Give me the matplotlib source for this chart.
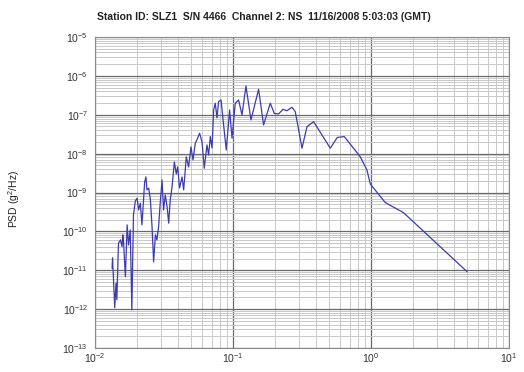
import matplotlib
matplotlib.use("Agg")
import matplotlib.pyplot as plt
from matplotlib.ticker import LogLocator, FuncFormatter, NullFormatter
import numpy as np

plt.rcParams['font.family'] = ['Liberation Sans', 'DejaVu Sans']
plt.rcParams['mathtext.fontset'] = 'custom'
plt.rcParams['mathtext.rm'] = 'Liberation Sans'
plt.rcParams['mathtext.it'] = 'Liberation Sans:italic'
plt.rcParams['mathtext.bf'] = 'Liberation Sans:bold'

title = "Station ID: SLZ1  S/N 4466  Channel 2: NS  11/16/2008 5:03:03 (GMT)"
ylabel = "PSD (g$^{2}$/Hz)"

# Frequency (Hz) and power spectral density (g^2/Hz)
freq = [0.0133, 0.0134, 0.0136, 0.0139, 0.0142, 0.0144, 0.0147, 0.0148, 0.0153, 0.0157,
        0.0159, 0.0161, 0.0166, 0.0171, 0.0175, 0.0180, 0.0185, 0.0190, 0.0196, 0.0202,
        0.0207, 0.0213, 0.0219, 0.0229, 0.0234, 0.0238, 0.0245, 0.0252, 0.0259, 0.0266,
        0.0274, 0.0281, 0.0289, 0.0297, 0.0306, 0.0314, 0.0323, 0.0333, 0.0342, 0.0351,
        0.0361, 0.0376, 0.0388, 0.0397, 0.0410, 0.0427, 0.0439, 0.0459, 0.0477, 0.0496,
        0.0513, 0.0533, 0.0554, 0.0573, 0.0596, 0.0619, 0.0648, 0.0666, 0.0685, 0.0705,
        0.0724, 0.0744, 0.0766, 0.0786, 0.0819, 0.0855, 0.0894, 0.0945, 0.0984,
        0.1039, 0.1098, 0.1162, 0.1242, 0.1350, 0.1533, 0.1666, 0.1863, 0.1992, 0.2140,
        0.2303, 0.2462, 0.2676, 0.2828, 0.3162, 0.3438, 0.3838, 0.5071, 0.570, 0.641,
        0.720, 0.837, 0.935, 0.988, 1.27, 1.72, 4.96]
psd = [1.13e-11, 2.08e-11, 6.38e-12, 1.08e-12, 4.66e-12, 1.73e-12, 2.25e-11, 4.98e-11, 6.04e-11, 4.06e-11,
       8.13e-11, 5.47e-11, 6.76e-12, 1.47e-10, 4.50e-11, 1.09e-10, 9.6e-13, 2.65e-10, 6.08e-10, 7.13e-10,
       3.57e-10, 5.31e-10, 1.47e-10, 1.87e-9, 2.52e-9, 1.17e-9, 1.29e-9, 6.45e-10, 1.33e-10, 1.64e-11,
       8.13e-11, 6.04e-11, 1.33e-10, 5.41e-10, 2.11e-9, 3.57e-10, 8.67e-10, 4.34e-10, 1.63e-10, 6.45e-10,
       1.31e-9, 6.12e-9, 3.01e-9, 4.55e-9, 1.31e-9, 2.52e-9, 1.17e-9, 8.22e-9, 4.55e-9, 1.49e-8,
       6.89e-9, 1.85e-8, 2.49e-8, 3.34e-8, 2.03e-8, 4.21e-9, 1.67e-8, 9.27e-9, 2.74e-8, 1.40e-8,
       1.33e-7, 1.98e-7, 8.28e-8, 2.17e-7, 2.40e-7, 5.47e-8, 1.24e-8, 1.33e-7, 2.49e-8,
       1.98e-7, 2.40e-7, 9.9e-8, 5.50e-7, 7.35e-8, 4.53e-7, 5.47e-8, 1.98e-7, 1.08e-7, 1.05e-7,
       1.38e-7, 1.27e-7, 1.56e-7, 1.20e-7, 1.38e-8, 4.94e-8, 6.65e-8, 1.38e-8, 2.61e-8, 2.74e-8,
       1.63e-8, 8.22e-9, 3.81e-9, 1.66e-9, 5.50e-10, 3.04e-10, 9.26e-12]

xlim = (1e-2, 1e1)
ylim = (1e-13, 1e-5)

fig = plt.figure(figsize=(5.24, 3.72), dpi=100)
ax = fig.add_axes([0.1813, 0.0645, 0.79, 0.836])

ax.set_xscale('log')
ax.set_yscale('log')
ax.set_xlim(*xlim)
ax.set_ylim(*ylim)

ax.xaxis.set_major_locator(LogLocator(base=10, numticks=20))
ax.yaxis.set_major_locator(LogLocator(base=10, numticks=20))
ax.xaxis.set_minor_locator(LogLocator(base=10, subs=np.arange(2, 10), numticks=20))
ax.yaxis.set_minor_locator(LogLocator(base=10, subs=np.arange(2, 10), numticks=20))

fmt = FuncFormatter(lambda v, p: r'$10^{%d}$' % int(round(np.log10(v))))
ax.xaxis.set_major_formatter(fmt)
ax.yaxis.set_major_formatter(fmt)
ax.xaxis.set_minor_formatter(NullFormatter())
ax.yaxis.set_minor_formatter(NullFormatter())

ax.grid(True, which='major', color='#6a6a6a', linewidth=0.9)
ax.grid(True, which='minor', color='#c8c8c8', linewidth=0.7)
ax.set_axisbelow(True)

ax.tick_params(which='both', length=0, labelsize=7.5, colors='#333333')
ax.tick_params(axis='x', pad=2)
ax.tick_params(axis='y', pad=5)
for s in ax.spines.values():
    s.set_color('#8a8a8a')
    s.set_linewidth(0.8)

ax.plot(freq, psd, color='#3c3cb0', linewidth=0.9)

fig.text(0.503, 0.955, title, ha='center', va='center', fontsize=7.5,
         fontweight='bold', color='#222222')
fig.text(0.027, 0.465, ylabel, ha='center', va='center', rotation=90,
         fontsize=7.5, color='#222222')

fig.savefig('out.png', dpi=100)
